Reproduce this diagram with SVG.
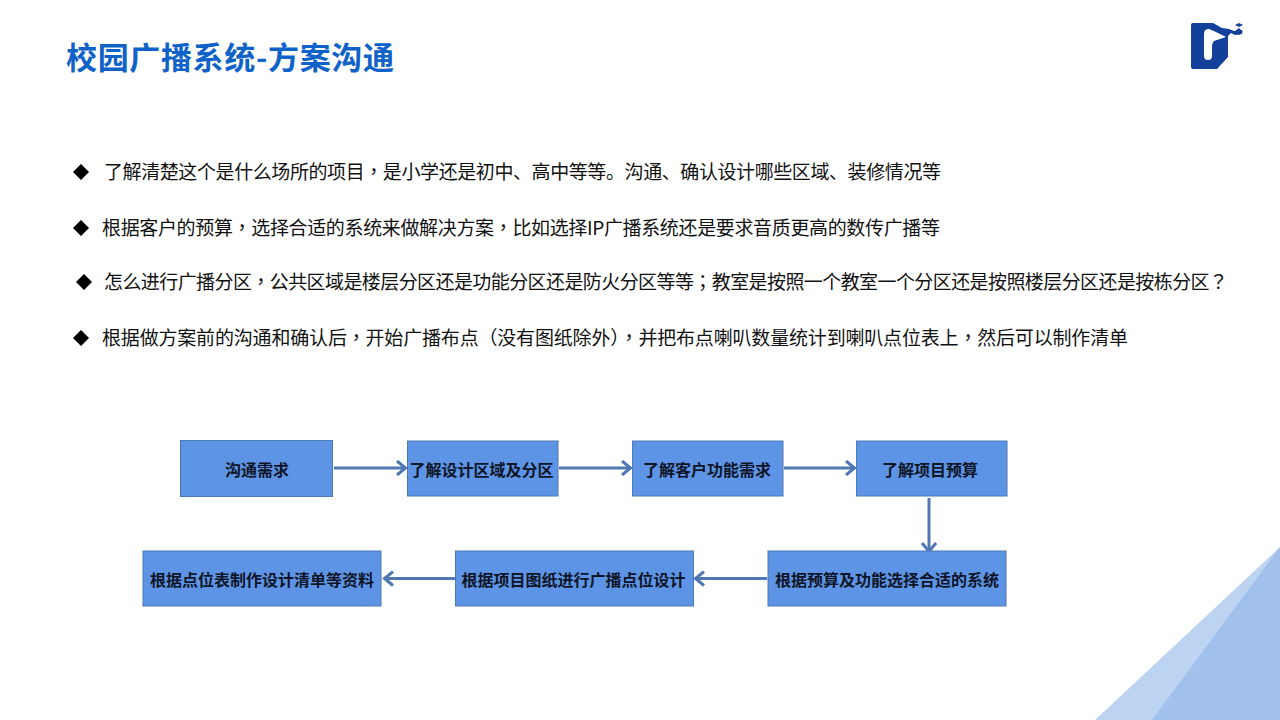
<svg xmlns="http://www.w3.org/2000/svg" width="1280" height="720" viewBox="0 0 1280 720">
<style>
text{font-family:"Noto Sans CJK SC","Liberation Sans",sans-serif}
.p{font-family:"Noto Sans CJK TC","Liberation Sans",sans-serif}
.b{font-size:19px;fill:#111}
.n{font-size:16px;font-weight:700;fill:#0d1526;text-anchor:middle}
.box{fill:#5e94e6;stroke:#4c79b3;stroke-width:1}
.c{fill:none;stroke:#4f78b2;stroke-width:3}
</style>
<defs>
<marker id="a" markerUnits="userSpaceOnUse" markerWidth="14" markerHeight="16" refX="12" refY="8" orient="auto"><path d="M3 1L11.500 8L3 15" fill="none" stroke="#4f78b2" stroke-width="3"/></marker>
</defs>
<rect width="1280" height="720" fill="#fff"/>
<g id="corner">
<polygon points="1280,547 1280,720 1095,720" fill="#bcd3f2"/>
<polygon points="1280,547 1280,720 1152,720" fill="#a1c0ec"/>
</g>
<g id="logo">
<path d="M1193 23H1213L1222 28L1229 29L1234 31L1242 30V34L1235 35L1231 33L1228 36V57L1217 69H1193Q1191 69 1191 67V25Q1191 23 1193 23Z" fill="#12409a"/>
<path d="M1204 34Q1204 29 1209 29L1216 32L1226 37L1214 41Q1212 43 1212 46V56Q1212 60 1208 60Q1204 60 1204 56Z" fill="#fff"/>
<path d="M1235 25L1239 23L1243 25L1239 27Z" fill="#12409a"/>
<path d="M1234 32L1239 28L1243 32L1239 35Z" fill="#12409a"/>
</g>
<text x="66" y="69" font-size="31" font-weight="700" fill="#0f63c8" textLength="328" lengthAdjust="spacing">校园广播系统-方案沟通</text>
<g id="bullets" fill="#000">
<path d="M81 164L89 172L81 180L73 172Z"/>
<path d="M81 220L89 228L81 236L73 228Z"/>
<path d="M84 274L92 282L84 290L76 282Z"/>
<path d="M81 330L89 338L81 346L73 338Z"/>
</g>
<text class="b" x="104" y="179" textLength="837" lengthAdjust="spacing">了解清楚这个是什么场所的项目<tspan class="p">，</tspan>是小学还是初中、高中等等。沟通、确认设计哪些区域、装修情况等</text>
<text class="b" x="102" y="235" textLength="838" lengthAdjust="spacing">根据客户的预算<tspan class="p">，</tspan>选择合适的系统来做解决方案<tspan class="p">，</tspan>比如选择IP广播系统还是要求音质更高的数传广播等</text>
<text class="b" x="104" y="289" textLength="1124" lengthAdjust="spacing">怎么进行广播分区<tspan class="p">，</tspan>公共区域是楼层分区还是功能分区还是防火分区等等<tspan class="p">；</tspan>教室是按照一个教室一个分区还是按照楼层分区还是按栋分区<tspan class="p">？</tspan></text>
<text class="b" x="102" y="345" textLength="1026" lengthAdjust="spacing">根据做方案前的沟通和确认后<tspan class="p">，</tspan>开始广播布点<tspan class="p">（</tspan>没有图纸除外<tspan class="p">），</tspan>并把布点喇叭数量统计到喇叭点位表上<tspan class="p">，</tspan>然后可以制作清单</text>
<g id="connectors">
<path class="c" marker-end="url(#a)" d="M334 468H406"/>
<path class="c" marker-end="url(#a)" d="M559 468H631"/>
<path class="c" marker-end="url(#a)" d="M784 468H855"/>
<path class="c" marker-end="url(#a)" d="M929 498V552"/>
<path class="c" marker-end="url(#a)" d="M767 578.500H695"/>
<path class="c" marker-end="url(#a)" d="M455 578.500H384"/>
</g>
<g id="n1"><rect class="box" x="180.500" y="440.500" width="152" height="56"/><text class="n" x="257" y="476">沟通需求</text></g>
<g id="n2"><rect class="box" x="407.500" y="441" width="150.500" height="55"/><text class="n" x="481.500" y="476">了解设计区域及分区</text></g>
<g id="n3"><rect class="box" x="632.500" y="441" width="150.500" height="55"/><text class="n" x="707" y="476">了解客户功能需求</text></g>
<g id="n4"><rect class="box" x="856.500" y="441" width="150.500" height="55"/><text class="n" x="930" y="476">了解项目预算</text></g>
<g id="n5"><rect class="box" x="768" y="551" width="238" height="55"/><text class="n" x="887" y="586">根据预算及功能选择合适的系统</text></g>
<g id="n6"><rect class="box" x="455.500" y="551" width="238" height="55"/><text class="n" x="573.500" y="586">根据项目图纸进行广播点位设计</text></g>
<g id="n7"><rect class="box" x="143" y="551" width="238" height="55"/><text class="n" x="262" y="586">根据点位表制作设计清单等资料</text></g>
</svg>
